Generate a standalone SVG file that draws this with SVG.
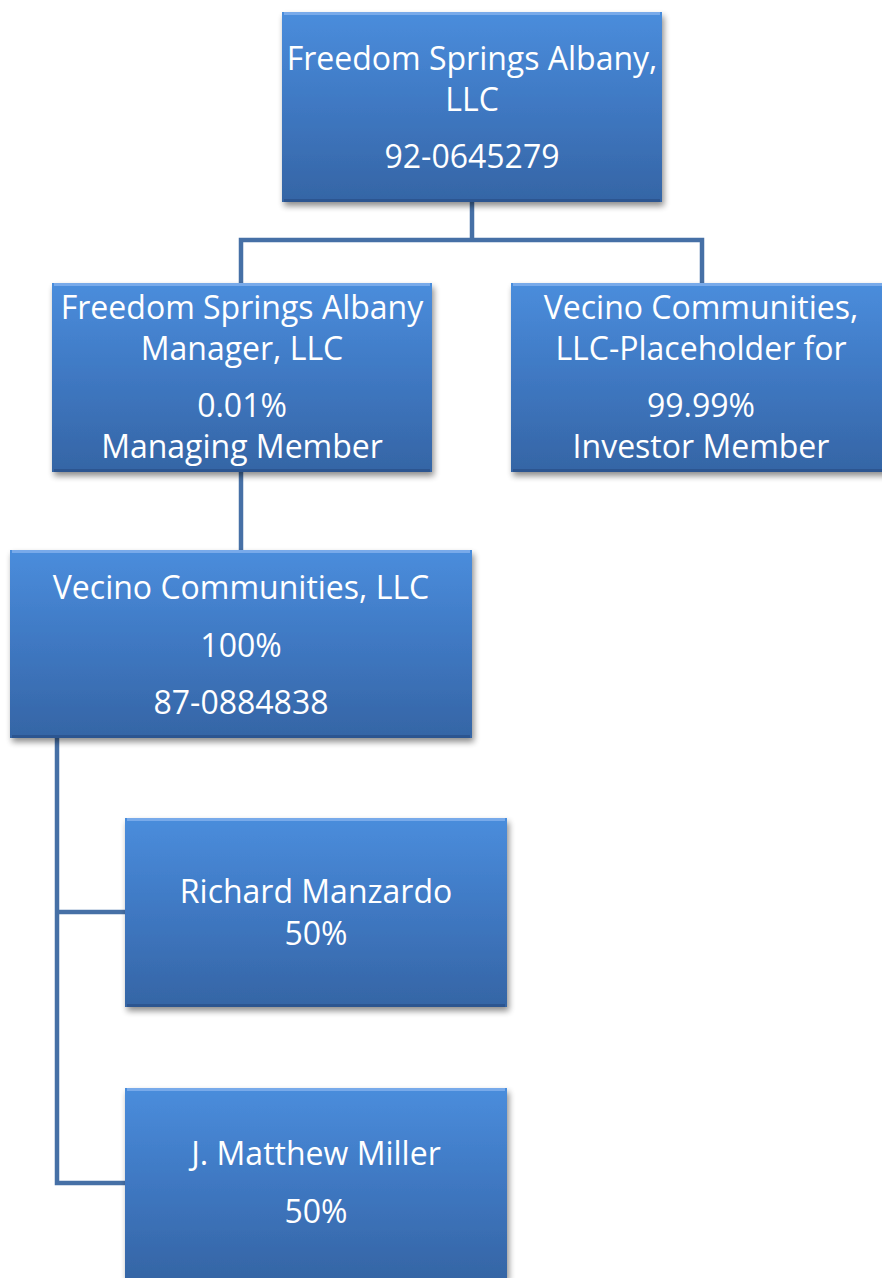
<svg xmlns="http://www.w3.org/2000/svg" width="882" height="1278" viewBox="0 0 882 1278">
<defs>
<linearGradient id="g" x1="0" y1="0" x2="0" y2="1">
<stop offset="0" stop-color="#4a8ddc"/>
<stop offset="0.5" stop-color="#3f78c2"/>
<stop offset="1" stop-color="#3565a5"/>
</linearGradient>
<filter id="sh" x="-10%" y="-10%" width="125%" height="130%">
<feGaussianBlur in="SourceAlpha" stdDeviation="3"/>
<feOffset dx="2" dy="4"/>
<feComponentTransfer><feFuncA type="linear" slope="0.45"/></feComponentTransfer>
<feMerge><feMergeNode/><feMergeNode in="SourceGraphic"/></feMerge>
</filter>
</defs>
<style>
.box{fill:url(#g);filter:url(#sh)}
.hl{fill:none;stroke:#78aaea;stroke-width:3}
.dk{fill:none;stroke:#2c5590;stroke-width:3}
.t{font-family:"Open Sans","Noto Sans",sans-serif;font-size:32px;fill:#ffffff;text-anchor:middle}
.c{fill:none;stroke:#4670a6;stroke-width:4.5;stroke-linejoin:miter;stroke-linecap:square}
</style>
<g id="connectors">
<path class="c" d="M472 202V240M241 240H702M241 240V283M702 240V283"/>
<path class="c" d="M241 472V550"/>
<path class="c" d="M57 738V1183H125M57 912H125"/>
</g>
<g id="n1">
<rect class="box" x="282" y="12" width="380" height="190"/>
<path class="hl" d="M284 13.5H660"/><path class="dk" d="M284 200.5H660"/>
<text class="t" x="472" y="70">Freedom Springs Albany,</text>
<text class="t" x="472" y="111">LLC</text>
<text class="t" x="472" y="168">92-0645279</text>
</g>
<g id="n2">
<rect class="box" x="52" y="283" width="380" height="189"/>
<path class="hl" d="M54 284.5H430"/><path class="dk" d="M54 470.5H430"/>
<text class="t" x="242" y="319">Freedom Springs Albany</text>
<text class="t" x="242" y="360">Manager, LLC</text>
<text class="t" x="242" y="417">0.01%</text>
<text class="t" x="242" y="458">Managing Member</text>
</g>
<g id="n3">
<rect class="box" x="511" y="283" width="380" height="189"/>
<path class="hl" d="M513 284.5H889"/><path class="dk" d="M513 470.5H889"/>
<text class="t" x="701" y="319">Vecino Communities,</text>
<text class="t" x="701" y="360">LLC-Placeholder for</text>
<text class="t" x="701" y="417">99.99%</text>
<text class="t" x="701" y="458">Investor Member</text>
</g>
<g id="n4">
<rect class="box" x="10" y="550" width="462" height="188"/>
<path class="hl" d="M12 551.5H470"/><path class="dk" d="M12 736.5H470"/>
<text class="t" x="241" y="599">Vecino Communities, LLC</text>
<text class="t" x="241" y="657">100%</text>
<text class="t" x="241" y="714">87-0884838</text>
</g>
<g id="n5">
<rect class="box" x="125" y="818" width="382" height="189"/>
<path class="hl" d="M127 819.5H505"/><path class="dk" d="M127 1005.5H505"/>
<text class="t" x="316" y="903">Richard Manzardo</text>
<text class="t" x="316" y="945">50%</text>
</g>
<g id="n6">
<rect class="box" x="125" y="1088" width="382" height="190"/>
<path class="hl" d="M127 1089.5H505"/>
<text class="t" x="316" y="1165">J. Matthew Miller</text>
<text class="t" x="316" y="1223">50%</text>
</g>
</svg>
